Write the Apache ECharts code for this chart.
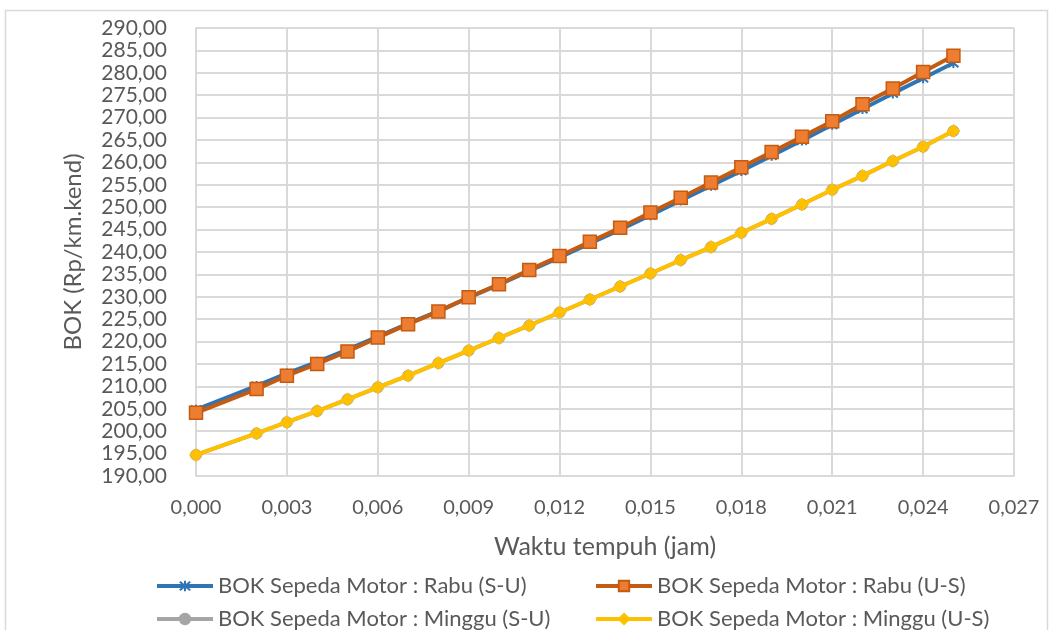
<!DOCTYPE html>
<html>
<head>
<meta charset="utf-8">
<script src="https://cdn.jsdelivr.net/npm/echarts@6/dist/echarts.min.js"></script>
<style>
  html, body { margin: 0; padding: 0; background: #ffffff; }
  #chart { width: 1054px; height: 630px; }
</style>
</head>
<body>
<div id="chart"></div>
<script>
// Travel time (hours) at each observation point
const waktuTempuh = [0.000, 0.002, 0.003, 0.004, 0.005, 0.006, 0.007, 0.008, 0.009, 0.010,
                     0.011, 0.012, 0.013, 0.014, 0.015, 0.016, 0.017, 0.018, 0.019, 0.020,
                     0.021, 0.022, 0.023, 0.024, 0.025];

// Vehicle operating cost (Rp/km.kend) per direction and day
const rabuSU = [204.8, 210.1, 212.9, 215.5, 218.2, 221.1, 224.0, 226.8, 229.8, 232.7,
                235.8, 238.8, 241.9, 245.0, 248.2, 251.5, 254.8, 258.1, 261.5, 264.9,
                268.4, 271.9, 275.4, 278.8, 282.2];
const rabuUS = [204.1, 209.4, 212.4, 215.0, 217.8, 220.9, 223.9, 226.7, 229.9, 232.8,
                236.0, 239.1, 242.3, 245.4, 248.8, 252.1, 255.5, 258.9, 262.3, 265.7,
                269.2, 273.0, 276.5, 280.2, 283.8];
const mingguSU = [194.7, 199.5, 202.0, 204.5, 207.1, 209.8, 212.4, 215.2, 218.0, 220.8,
                  223.6, 226.5, 229.4, 232.3, 235.2, 238.2, 241.1, 244.3, 247.4, 250.6,
                  253.9, 257.0, 260.3, 263.5, 267.0];
const mingguUS = [194.7, 199.5, 202.0, 204.5, 207.1, 209.8, 212.4, 215.2, 218.0, 220.8,
                  223.6, 226.5, 229.4, 232.3, 235.2, 238.2, 241.1, 244.3, 247.4, 250.6,
                  253.9, 257.0, 260.3, 263.5, 267.0];

const seriesNames = [
  'BOK Sepeda Motor : Rabu (S-U)',
  'BOK Sepeda Motor : Rabu (U-S)',
  'BOK Sepeda Motor : Minggu (S-U)',
  'BOK Sepeda Motor : Minggu (U-S)'
];
const xAxisTitle = 'Waktu tempuh (jam)';
const yAxisTitle = 'BOK (Rp/km.kend)';

const pairs = ys => waktuTempuh.map((x, i) => [x, ys[i]]);
const comma = (v, d) => v.toFixed(d).replace('.', ',');

const FONT = 'Lato';
const TEXT = '#595959';
const GRID = '#d9d9d9';

// asterisk marker: X plus a vertical stroke
const asterisk = 'path://M0,0L10,10M10,0L0,10M5,-1L5,11';

// one legend block per entry, laid out as a 2x2 table under the plot
const legendSlots = [
  { left: 155, top: 575 },
  { left: 594, top: 575 },
  { left: 155, top: 608 },
  { left: 594, top: 608 }
];

const chart = echarts.init(document.getElementById('chart'), null, { renderer: 'canvas' });

chart.setOption({
  backgroundColor: '#ffffff',
  animation: false,
  textStyle: { fontFamily: FONT, color: TEXT },
  graphic: [{
    type: 'rect',
    shape: { x: 5.5, y: 10.5, width: 1042, height: 700 },
    style: { fill: 'none', stroke: GRID, lineWidth: 1.5 },
    silent: true
  }],
  grid: { left: 196, right: 40, top: 28, bottom: 154 },
  xAxis: {
    type: 'value',
    min: 0, max: 0.027, interval: 0.003,
    name: xAxisTitle,
    nameLocation: 'middle',
    nameGap: 58,
    nameTextStyle: { fontFamily: FONT, fontSize: 25, color: TEXT },
    axisLine: { show: true, lineStyle: { color: GRID, width: 2 } },
    axisTick: { show: false },
    splitLine: { show: true, lineStyle: { color: GRID, width: 2 } },
    axisLabel: { formatter: v => comma(v, 3), fontFamily: FONT, fontSize: 20, color: TEXT, margin: 22 }
  },
  yAxis: {
    type: 'value',
    min: 190, max: 290, interval: 5,
    name: yAxisTitle,
    nameLocation: 'middle',
    nameGap: 111,
    nameTextStyle: { fontFamily: FONT, fontSize: 24, color: TEXT },
    axisLine: { show: true, lineStyle: { color: GRID, width: 2 } },
    axisTick: { show: false },
    splitLine: { show: true, lineStyle: { color: GRID, width: 2 } },
    axisLabel: { formatter: v => comma(v, 2), fontFamily: FONT, fontSize: 21, color: TEXT, margin: 29 }
  },
  legend: seriesNames.map((name, i) => ({
    data: [name],
    orient: 'horizontal',
    left: legendSlots[i].left,
    top: legendSlots[i].top,
    padding: 0,
    itemWidth: 56, itemHeight: 13, itemGap: 0,
    lineStyle: { width: 4 },
    textStyle: { fontFamily: FONT, fontSize: 22, color: TEXT }
  })),
  series: [{
    name: seriesNames[0],
    type: 'line',
    data: pairs(rabuSU),
    symbol: asterisk,
    symbolSize: 10,
    lineStyle: { color: '#2e75b6', width: 4 },
    itemStyle: { color: '#2e75b6', borderColor: '#2e75b6', borderWidth: 2 },
    z: 2
  }, {
    name: seriesNames[1],
    type: 'line',
    data: pairs(rabuUS),
    symbol: 'rect',
    symbolSize: 13,
    lineStyle: { color: '#c55a11', width: 4 },
    itemStyle: { color: '#ed7d31', borderColor: '#c55a11', borderWidth: 1.5 },
    z: 3
  }, {
    name: seriesNames[2],
    type: 'line',
    data: pairs(mingguSU),
    symbol: 'circle',
    symbolSize: 11,
    lineStyle: { color: '#a5a5a5', width: 4 },
    itemStyle: { color: '#a5a5a5', borderColor: '#a5a5a5', borderWidth: 1 },
    z: 4
  }, {
    name: seriesNames[3],
    type: 'line',
    data: pairs(mingguUS),
    symbol: 'diamond',
    symbolSize: 13,
    lineStyle: { color: '#ffc000', width: 4 },
    itemStyle: { color: '#ffc000', borderColor: '#ffc000', borderWidth: 1 },
    z: 5
  }]
});
</script>
</body>
</html>
